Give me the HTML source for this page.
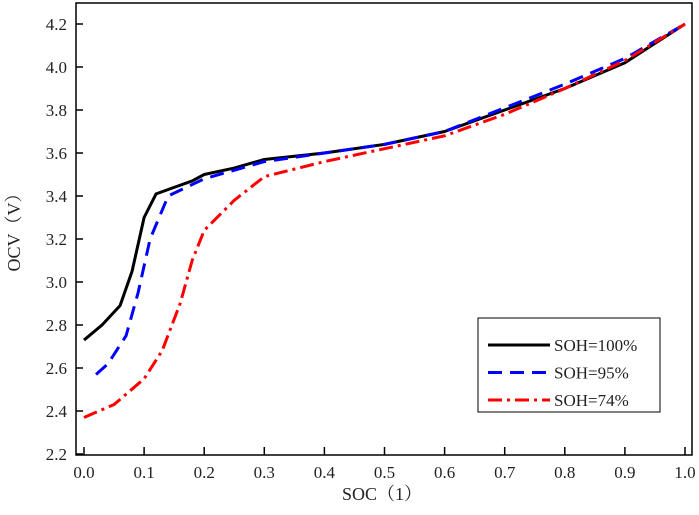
<!DOCTYPE html>
<html><head><meta charset="utf-8"><style>
body{margin:0;background:#fff}
svg{display:block;font-family:"Liberation Serif","Noto Serif CJK SC",serif}
</style></head><body>
<svg id="c" width="699" height="515"></svg>
<script>
const xTicks=[0.0,0.1,0.2,0.3,0.4,0.5,0.6,0.7,0.8,0.9,1.0];
const xTickLabels=["0.0","0.1","0.2","0.3","0.4","0.5","0.6","0.7","0.8","0.9","1.0"];
const yTicks=[2.2,2.4,2.6,2.8,3.0,3.2,3.4,3.6,3.8,4.0,4.2];
const yTickLabels=["2.2","2.4","2.6","2.8","3.0","3.2","3.4","3.6","3.8","4.0","4.2"];
const seriesNames=["SOH=100%","SOH=95%","SOH=74%"];
const soc100=[0,0.03,0.06,0.08,0.1,0.12,0.15,0.18,0.2,0.25,0.3,0.4,0.5,0.6,0.7,0.8,0.9,1.0];
const ocv100=[2.73,2.8,2.89,3.05,3.3,3.41,3.44,3.47,3.5,3.53,3.57,3.6,3.64,3.7,3.8,3.9,4.02,4.2];
const soc95=[0.02,0.04,0.07,0.09,0.11,0.14,0.2,0.3,0.4,0.5,0.6,0.7,0.8,0.9,1.0];
const ocv95=[2.57,2.62,2.75,2.95,3.2,3.4,3.48,3.56,3.6,3.64,3.7,3.81,3.92,4.04,4.2];
const soc74=[0,0.05,0.1,0.13,0.16,0.18,0.2,0.25,0.3,0.4,0.5,0.6,0.7,0.8,0.9,1.0];
const ocv74=[2.37,2.43,2.55,2.68,2.9,3.1,3.24,3.38,3.49,3.56,3.62,3.68,3.78,3.9,4.03,4.2];

const NS="http://www.w3.org/2000/svg";
const svg=document.getElementById('c');
const X=v=>84+v*601;
const Y=v=>454-(v-2.2)*215;
function mk(t,a,p){const e=document.createElementNS(NS,t);for(const k in a)e.setAttribute(k,a[k]);(p||svg).appendChild(e);return e;}
const frame=mk('rect',{x:76,y:3,width:616,height:452,fill:'none',stroke:'#000','stroke-width':1.5});


xTicks.forEach((v,i)=>{
  const t=mk('line',{x1:X(v),x2:X(v),y1:455,y2:447,stroke:'#000','stroke-width':1.5});
  
  
  const l=mk('text',{x:X(v),y:478,'text-anchor':'middle','font-size':17,fill:'#222'});
  l.textContent=xTickLabels[i];
  
  
});
yTicks.forEach((v,i)=>{
  const t=mk('line',{x1:76,x2:83,y1:Y(v),y2:Y(v),stroke:'#000','stroke-width':1.5});
  
  
  const l=mk('text',{x:67,y:Y(v)+6,'text-anchor':'end','font-size':17,fill:'#222'});
  l.textContent=yTickLabels[i];
  
  
});
const xt=mk('text',{x:382,y:500,'text-anchor':'middle','font-size':18,fill:'#222'});
xt.textContent='SOC（1）';


const yt=mk('text',{x:0,y:0,transform:'translate(20,228) rotate(-90)','text-anchor':'middle','font-size':18,fill:'#222'});
yt.textContent='OCV（V）';


const styles=[{c:'#000',d:''},{c:'#0000ff',d:'14 8'},{c:'#ff0000',d:'14 5 3 5'}];
[[soc100,ocv100],[soc95,ocv95],[soc74,ocv74]].forEach((s,i)=>{
  const pts=s[0].map((v,j)=>X(v)+','+Y(s[1][j])).join(' ');
  const p=mk('polyline',{points:pts,fill:'none',stroke:styles[i].c,'stroke-width':3,'stroke-dasharray':styles[i].d,'stroke-linejoin':'round'});
  
  
});
const lg=mk('g',{});


mk('rect',{x:478,y:318,width:182,height:94,fill:'#fff',stroke:'#000','stroke-width':1},lg);
seriesNames.forEach((n,i)=>{
  const y=345+i*27.5;
  const l=mk('line',{x1:488,x2:550,y1:y,y2:y,stroke:styles[i].c,'stroke-width':3,'stroke-dasharray':styles[i].d},lg);
  
  
  const t=mk('text',{x:554,y:y+6,'font-size':17,fill:'#222'},lg);
  t.textContent=n;
  
  
});
</script>
</body></html>
